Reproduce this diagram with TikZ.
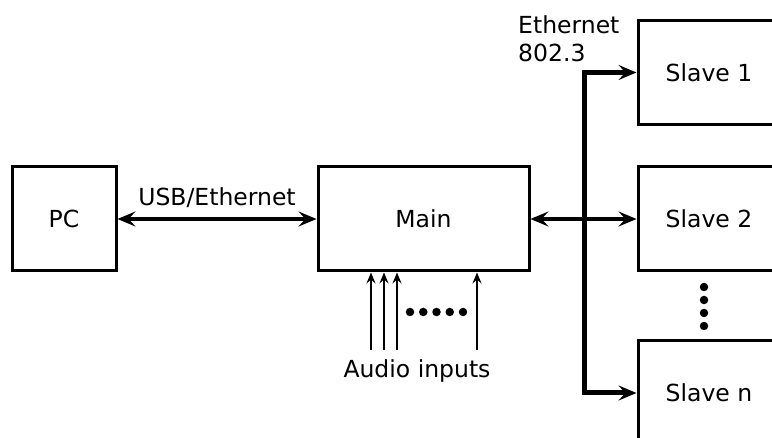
\documentclass[tikz,border=0pt]{standalone}
\usepackage{fontspec}
\setmainfont{DejaVu Sans}
\usetikzlibrary{arrows.meta}
\begin{document}
\begin{tikzpicture}[x=1pt,y=-1pt,
  box/.style={draw, line width=3pt, minimum height=104pt, inner sep=0pt, font=\fontsize{23.5}{28}\selectfont},
  lbl/.style={font=\fontsize{23.5}{28}\selectfont, inner sep=0pt},
  tip/.style={Stealth[length=18pt,width=15pt,inset=7pt]},
  link/.style={line width=3.6pt, {Stealth[length=18pt,width=15pt,inset=7pt]}-{Stealth[length=18pt,width=15pt,inset=7pt]}},
  bus/.style={line width=5pt, line join=miter, {Stealth[length=18pt,width=15pt,inset=7pt]}-{Stealth[length=18pt,width=15pt,inset=7pt]}},
  audio/.style={line width=2pt, -{Stealth[length=11pt,width=9pt,inset=4pt]}},
  dot/.style={fill=black, circle, inner sep=0pt, minimum size=8.5pt}]
\useasboundingbox (0,0) rectangle (772,438);
\clip (0,0) rectangle (772,438);
\node[box, minimum width=104pt] (pc) at (64,219) {PC};
\node[box, minimum width=211pt] (main) at (423.5,219) {Main};
\node[box, minimum width=142pt] (s1) at (709,72.5) {Slave 1};
\node[box, minimum width=142pt] (s2) at (709,219) {Slave 2};
\node[box, minimum width=142pt] (sn) at (709,393) {Slave n};
\draw[link] (pc.east) -- node[lbl, anchor=base, yshift=13pt] (usb) {USB/Ethernet} (main.west);
\coordinate (bt) at (584,72.5);
\coordinate (bb) at (584,393);
\draw[bus] (s1.west) -- (bt) -- (bb) -- (sn.west);
\draw[link, line width=4.6pt] (main.east) -- (s2.west);
\node[lbl, anchor=north west, align=left] (eth) at (518,15) {Ethernet\\802.3};
\coordinate (a1) at (371,350);
\coordinate (a2) at (384,350);
\coordinate (a3) at (397,350);
\coordinate (a4) at (477,350);
\foreach \a in {a1,a2,a3,a4} \draw[audio] (\a) -- (\a |- main.south);
\node[lbl, anchor=base] (ain) at (417,378) {Audio inputs};
\foreach \x [count=\i] in {410,423.25,436.5,449.75,463} \node[dot] (h\i) at (\x,312) {};
\foreach \y [count=\i] in {287,300,313,326} \node[dot] (v\i) at (704,\y) {};
\end{tikzpicture}
\end{document}
